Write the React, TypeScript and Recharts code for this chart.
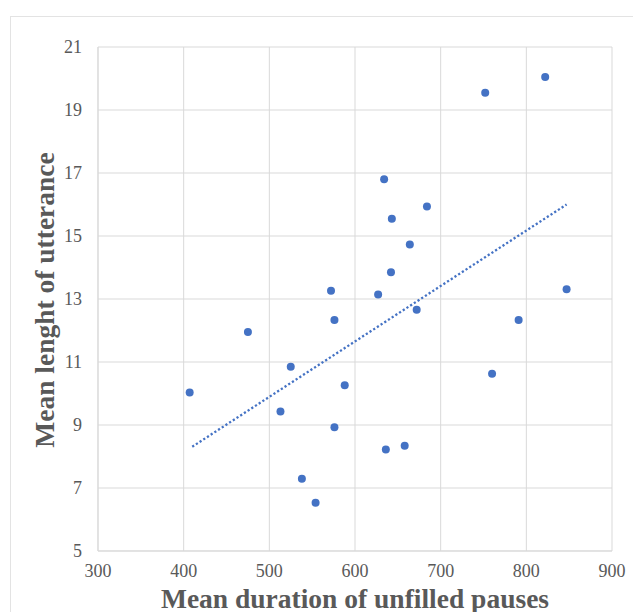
import { ScatterChart, Scatter, XAxis, YAxis, ZAxis, CartesianGrid } from 'recharts'

// mean duration of unfilled pauses (ms) vs mean length of utterance
const pauseMs = [752, 822, 634, 684, 643, 664, 642, 572, 627, 847, 576, 672, 475, 791, 525, 588, 760, 407, 513, 576, 636, 658, 538, 554]
const utterLen = [19.55, 20.05, 16.8, 15.94, 15.55, 14.73, 13.85, 13.26, 13.14, 13.31, 12.33, 12.66, 11.95, 12.33, 10.85, 10.26, 10.63, 10.03, 9.43, 8.93, 8.22, 8.34, 7.29, 6.53]

// linear trend endpoints as drawn
const trendX = [410, 847]
const trendY = [8.31, 16.0]

const xTicks = [300, 400, 500, 600, 700, 800, 900]
const yTicks = [5, 7, 9, 11, 13, 15, 17, 19, 21]

const BLUE = '#4472C4'
const GRID = '#D9D9D9'
const TEXT = '#595959'
const FONT = '"Liberation Serif", "Times New Roman", serif'

const points = pauseMs.map((x, i) => ({ x, y: utterLen[i] }))
const trend = trendX.map((x, i) => ({ x, y: trendY[i] }))

const TICK = { fontFamily: FONT, fontSize: 18, fill: TEXT }
const TITLE = { fontFamily: FONT, fontSize: 27.5, fontWeight: 'bold', fill: TEXT }

function Dot(props: any) {
  return <circle cx={props.cx} cy={props.cy} r={4} fill={BLUE} />
}

export default function App() {
  return (
    <div style={{ position: 'absolute', left: 0, top: 0, width: 633, height: 612, overflow: 'hidden', background: '#fff' }}>
      <div style={{ position: 'absolute', left: 10, top: 16, width: 700, height: 700, border: '1px solid #E3E3E3' }} />
      <div style={{ position: 'absolute', left: 0, top: 0 }}>
        <ScatterChart width={633} height={612} margin={{ top: 47, right: 21, left: 0, bottom: 0 }}>
          <CartesianGrid stroke={GRID} strokeWidth={1} />
          <XAxis
            type="number" dataKey="x" domain={[300, 900]} ticks={xTicks} height={61}
            axisLine={{ stroke: GRID }} tickLine={false} tickMargin={7} tick={TICK}
            label={{
              content: () => (
                <text x={355} y={598} textAnchor="middle" dominantBaseline="central" style={TITLE}>
                  Mean duration of unfilled pauses
                </text>
              ),
            }}
          />
          <YAxis
            type="number" dataKey="y" domain={[5, 21]} ticks={yTicks} width={98}
            axisLine={{ stroke: GRID }} tickLine={false} tickMargin={10} tick={TICK}
            label={{
              content: () => (
                <text x={44} y={300} transform="rotate(-90 44 300)" textAnchor="middle" dominantBaseline="central" style={TITLE}>
                  Mean lenght of utterance
                </text>
              ),
            }}
          />
          <ZAxis range={[50, 50]} />
          <Scatter
            data={trend} isAnimationActive={false} shape={() => <g />}
            line={{ stroke: BLUE, strokeWidth: 2.3, strokeDasharray: '2.2 2.2' }}
          />
          <Scatter data={points} isAnimationActive={false} shape={Dot} />
        </ScatterChart>
      </div>
    </div>
  )
}
